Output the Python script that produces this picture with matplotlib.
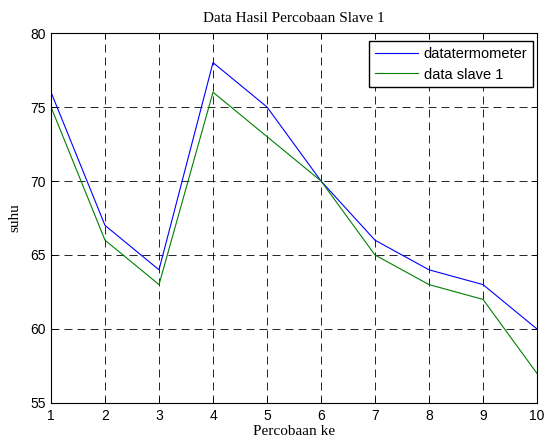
import matplotlib
matplotlib.use("Agg")
import matplotlib.pyplot as plt

percobaan = [1, 2, 3, 4, 5, 6, 7, 8, 9, 10]
datatermometer = [76, 67, 64, 78, 75, 70, 66, 64, 63, 60]
data_slave1 = [75, 66, 63, 76, 73, 70, 65, 63, 62, 57]

serif = ["Liberation Serif", "DejaVu Serif"]
sans = ["Liberation Sans", "DejaVu Sans"]

fig = plt.figure(figsize=(5.45, 4.43), dpi=100)
ax = fig.add_axes([0.0936, 0.0903, 0.8917, 0.8352])

ax.plot(percobaan, datatermometer, color=(0, 0, 1), lw=0.8, label="datatermometer")
ax.plot(percobaan, data_slave1, color=(0, 0.5, 0), lw=0.8, label="data slave 1")

ax.set_xlim(1, 10)
ax.set_ylim(55, 80)
ax.set_xticks(percobaan)
ax.set_yticks([55, 60, 65, 70, 75, 80])
# dashed black grid, dash pattern scaled by linewidth
ax.grid(True, color="black", linestyle=(0, (9.6, 6)), linewidth=0.6)
ax.tick_params(direction="in", top=True, right=True, length=4, width=0.6,
               labelsize=10, pad=4)
for lab in ax.get_xticklabels() + ax.get_yticklabels():
    lab.set_family(sans)
for s in ax.spines.values():
    s.set_linewidth(0.8)

ax.set_title("Data Hasil Percobaan Slave 1", family=serif, fontsize=11, pad=8)
ax.set_xlabel("Percobaan ke", family=serif, fontsize=11, labelpad=2)
ax.set_ylabel("suhu", family=serif, fontsize=11, labelpad=6)

leg = ax.legend(loc="upper right", bbox_to_anchor=(0.9918, 0.978),
                prop={"family": sans, "size": 10.5},
                fancybox=False, framealpha=1, edgecolor="black",
                borderaxespad=0, handlelength=3.0, handletextpad=0.35,
                labelspacing=0.45, borderpad=0.4)
leg.get_frame().set_linewidth(1.0)

fig.savefig("out.png", dpi=100)
